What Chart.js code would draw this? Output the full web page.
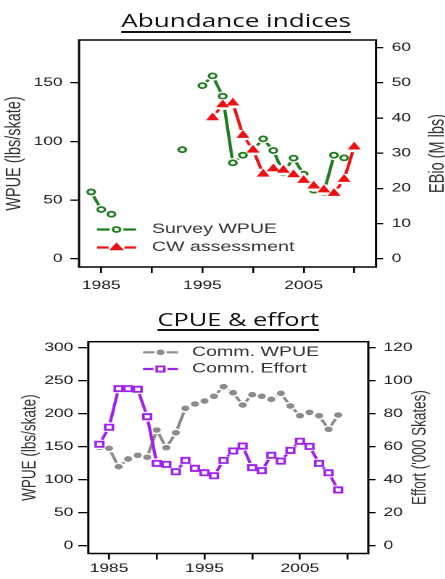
<!DOCTYPE html>
<html><head><meta charset="utf-8">
<script src="https://cdn.jsdelivr.net/npm/chart.js@4/dist/chart.umd.min.js"></script>
<style>
html,body{margin:0;padding:0;background:#fff;width:445px;height:579px;overflow:hidden}
#wrap{position:absolute;left:0;top:0;width:307px;height:579px;transform:scaleX(1.45);transform-origin:0 0}
.ttl{position:absolute;width:307px;text-align:center;font-family:'Open Sans',sans-serif;color:#111;text-decoration:underline;text-decoration-thickness:1.5px;white-space:nowrap}
.cv{position:absolute;left:0}
</style></head><body>
<div id="wrap">
<div class="cv" style="top:0;width:307px;height:300px"><canvas id="c1" width="307" height="300"></canvas></div>
<div class="cv" style="top:300px;width:307px;height:279px"><canvas id="c2" width="307" height="279"></canvas></div>
<div class="ttl" style="left:9.3px;top:10.7px;font-size:18px;line-height:18px;text-underline-offset:4px">Abundance indices</div>
<div class="ttl" style="left:10.8px;top:311px;font-size:17.5px;line-height:17.5px;text-underline-offset:3px">CPUE &amp; effort</div>
</div>
<script>
// ---------- DATA ----------
const topYears = [1984,1985,1986,1987,1988,1989,1990,1991,1992,1993,1994,1995,1996,1997,1998,1999,2000,2001,2002,2003,2004,2005,2006,2007,2008,2009,2010];
const surveyWPUE = [57,42,38,null,null,null,null,null,null,93,null,147.6,155.9,138.6,81.8,88.3,93,102.2,92.3,73.3,85.8,72.1,58.5,56.5,88.3,86,null];
const cwAssessment = [null,null,null,null,null,null,null,null,null,null,null,null,40.1,43.8,44.3,35.1,30.9,24.1,25.6,25.2,23.9,22.3,20.7,19.6,18.6,22.6,31.8];
const botYears = [1984,1985,1986,1987,1988,1989,1990,1991,1992,1993,1994,1995,1996,1997,1998,1999,2000,2001,2002,2003,2004,2005,2006,2007,2008,2009];
const commWPUE = [149,147.6,119.7,131.4,137,134,175.3,148.5,171.2,208.2,214.7,219.2,226.4,241,231.8,213.2,228.8,226.4,221.8,230.9,211.7,197,202,197,176.4,198];
const commEffort = [61.5,71.8,95.2,95.2,94.8,78.2,49.9,49.3,44.8,51.7,46.9,44.2,42.4,51.7,57.4,60.4,47.3,45.5,54.8,51.3,57.8,63.3,60.2,49.9,44.2,33.8];
const xTickValues = [1985,1990,1995,2000,2005,2010];
const xTickLabels = ['1985','','1995','','2005',''];
const topLeftTicks = [0,50,100,150];
const topRightTicks = [0,10,20,30,40,50,60];
const botLeftTicks = [0,50,100,150,200,250,300];
const botRightTicks = [0,20,40,60,80,100,120];

// ---------- STYLES ----------
const GREEN='#1e7d1e', RED='#ee1111', GRAY='#8c8c8c', PURPLE='#a020f0';
const TICKFONT={family:'Liberation Sans',size:12};

function series(years, vals, axis, color, lw, pt, ordBase){
  const data = years.map((x,i)=>({x:x,y:vals[i]}));
  return [
    {data, yAxisID:axis, borderColor:color, borderWidth:lw, pointRadius:0, showLine:true, spanGaps:false, fill:false, tension:0, order:ordBase+2},
    {data, yAxisID:axis, showLine:false, pointRadius:pt.gap, pointStyle:'circle', pointBackgroundColor:'#fff', pointBorderWidth:0, order:ordBase+1},
    {data, yAxisID:axis, showLine:false, pointRadius:pt.r, pointStyle:pt.style, pointBackgroundColor:pt.fill, pointBorderColor:color, pointBorderWidth:pt.bw, order:ordBase}
  ];
}

function xAxis(min,max,h,pad){
  return {type:'linear', position:'bottom', min, max,
    afterBuildTicks:s=>{s.ticks=xTickValues.map(v=>({value:v}));},
    afterFit:s=>{s.height=h;},
    grid:{display:true,drawOnChartArea:false,drawTicks:true,tickLength:6,color:'#000',lineWidth:1.3},
    border:{display:false},
    ticks:{padding:pad,color:'#1a1a1a',font:TICKFONT,autoSkip:false,maxRotation:0,
      callback:v=>{const i=xTickValues.indexOf(v);return i>=0?xTickLabels[i]:'';}}
  };
}
function yAxis(pos,min,max,tickArr,title,w,tl,pad,tf,tpad){
  return {type:'linear', position:pos, min, max,
    afterBuildTicks:s=>{s.ticks=tickArr.map(v=>({value:v}));},
    afterFit:s=>{s.width=w;},
    grid:{display:true,drawOnChartArea:false,drawTicks:true,tickLength:tl,color:'#000',lineWidth:1.3},
    border:{display:false},
    ticks:{padding:pad,color:'#1a1a1a',font:TICKFONT,autoSkip:false,callback:v=>String(v)},
    title:{display:!!title,text:title||'',color:'#333',font:{family:'Liberation Sans',size:tf,lineHeight:1.2},padding:{top:tpad,bottom:0}}
  };
}

function drawMarker(ctx,style,x,y,r,fill,stroke,bw){
  ctx.beginPath();
  if(style==='triangle'){
    ctx.moveTo(x, y - r);
    ctx.lineTo(x + r*0.866*1.15, y + r*0.5*1.1);
    ctx.lineTo(x - r*0.866*1.15, y + r*0.5*1.1);
    ctx.closePath();
  } else if(style==='rect'){
    const s=r*Math.SQRT1_2; ctx.rect(x-s,y-s,2*s,2*s);
  } else { ctx.arc(x,y,r,0,2*Math.PI); }
  ctx.fillStyle=fill; ctx.fill();
  if(bw>0){ctx.lineWidth=bw;ctx.strokeStyle=stroke;ctx.stroke();}
}

const boxLegend = {
  id:'boxLegend',
  afterDraw(chart,args,opts){
    const ctx=chart.ctx, a=chart.chartArea;
    ctx.save();
    ctx.lineWidth=1.5; ctx.strokeStyle='#000';
    ctx.strokeRect(a.left,a.top,a.right-a.left,a.bottom-a.top);
    (opts.items||[]).forEach(it=>{
      ctx.lineWidth=it.lw; ctx.strokeStyle=it.color;
      ctx.beginPath(); ctx.moveTo(opts.x1,it.y); ctx.lineTo(opts.x2,it.y); ctx.stroke();
      const mx=(opts.x1+opts.x2)/2;
      drawMarker(ctx,'circle',mx,it.y,it.gap,'#fff','#fff',0);
      drawMarker(ctx,it.style,mx,it.y,it.r,it.fill,it.color,it.bw);
      ctx.fillStyle='#333'; ctx.font='13.5px "Liberation Sans"'; ctx.textBaseline='middle'; ctx.textAlign='left';
      ctx.fillText(it.text,opts.tx,it.y);
    });
    if(opts.rightTitle){
      const rt=opts.rightTitle;
      ctx.save();
      ctx.translate(rt.x,(a.top+a.bottom)/2);
      ctx.rotate(-Math.PI/2);
      ctx.fillStyle='#333'; ctx.font=rt.size+'px "Liberation Sans"'; ctx.textAlign='center'; ctx.textBaseline='middle';
      ctx.fillText(rt.text,0,0);
      ctx.restore();
    }
    ctx.restore();
  }
};

const gPt={r:2.5,style:'circle',fill:'#fff',bw:1.8,gap:4.8};
const rPt={r:4.2,style:'triangle',fill:RED,bw:1,gap:5.5};
const grPt={r:2.3,style:'circle',fill:GRAY,bw:1,gap:4.3};
const pPt={r:3.7,style:'rect',fill:'#fff',bw:1.8,gap:5};

new Chart(document.getElementById('c1'),{
  type:'line',
  data:{datasets:[
    ...series(topYears,surveyWPUE,'y',GREEN,2.2,gPt,4),
    ...series(topYears,cwAssessment,'y1',RED,2.2,rPt,1)
  ]},
  options:{responsive:false,animation:false,events:[],devicePixelRatio:2,
    layout:{padding:{top:40,left:0,right:0,bottom:0}},
    plugins:{legend:{display:false},tooltip:{enabled:false},
      boxLegend:{x1:66.9,x2:93.8,tx:104.8,
        rightTitle:{text:'EBio (M lbs)',x:302,size:14.5},
        items:[
        Object.assign({y:229.5,text:'Survey WPUE',color:GREEN,lw:2.2},gPt),
        Object.assign({y:247.5,text:'CW assessment',color:RED,lw:2.2},rPt)
      ]}},
    scales:{
      x:xAxis(1982.8,2012.15,33,5.3),
      y:yAxis('left',-7,186.5,topLeftTicks,'WPUE (lbs/skate)',54.5,6,5.3,14.5,1.4),
      y1:yAxis('right',-7/3,186.5/3,topRightTicks,null,47.7,5,5.8,14.5,0)
    }
  },
  plugins:[boxLegend]
});

new Chart(document.getElementById('c2'),{
  type:'line',
  data:{datasets:[
    ...series(botYears,commWPUE,'y',GRAY,2.2,grPt,4),
    ...series(botYears,commEffort,'y1',PURPLE,2.2,pPt,1)
  ]},
  options:{responsive:false,animation:false,events:[],devicePixelRatio:2,
    layout:{padding:{top:41.7,left:0,right:0,bottom:0}},
    plugins:{legend:{display:false},tooltip:{enabled:false},
      boxLegend:{x1:98.6,x2:122.8,tx:132.4,
        rightTitle:{text:"Effort ('000 Skates)",x:289.7,size:13.5},
        items:[
        Object.assign({y:52.3,text:'Comm. WPUE',color:GRAY,lw:2.2},grPt),
        Object.assign({y:69,text:'Comm. Effort',color:PURPLE,lw:2.2},pPt)
      ]}},
    scales:{
      x:xAxis(1982.83,2012.16,25.5,2),
      y:yAxis('left',-11.8,309.1,botLeftTicks,'WPUE (lbs/skate)',60.9,6.9,3.4,13.5,12.6),
      y1:yAxis('right',-11.8/2.5,309.1/2.5,botRightTicks,null,53,5,5.5,13.5,9.1)
    }
  },
  plugins:[boxLegend]
});
</script>
</body></html>
